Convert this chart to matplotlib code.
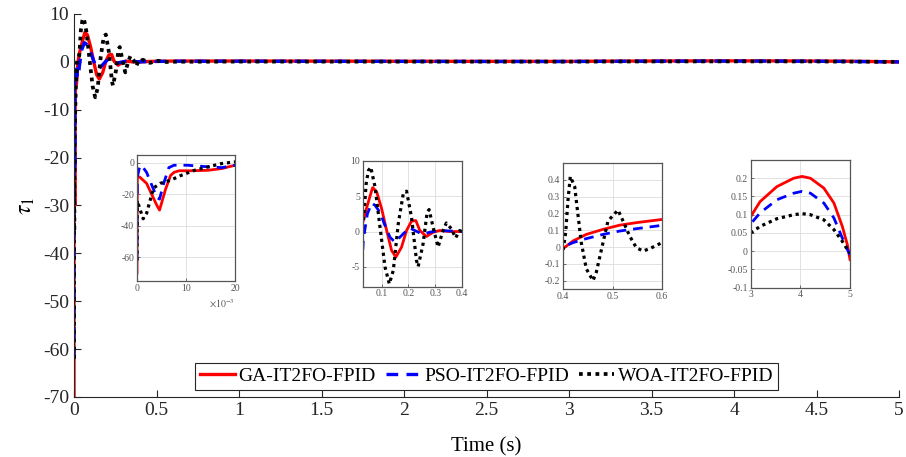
# encoding utf-8

import matplotlib
matplotlib.use('Agg')
from matplotlib import pyplot as plt
from matplotlib.ticker import FuncFormatter

plt.rcParams['font.family'] = ['Liberation Serif', 'DejaVu Serif']
plt.rcParams['mathtext.fontset'] = 'stix'
plt.rcParams['axes.unicode_minus'] = False

# time samples (s) and torque values
t_ga = [0, 0.00007, 0.00056, 0.00196, 0.0030, 0.00406, 0.0046, 0.0058, 0.00685, 0.00755,
        0.0086, 0.011, 0.0145, 0.0173, 0.020,
        0.0294, 0.0442, 0.0628, 0.0665, 0.0814, 0.1, 0.1186, 0.1372, 0.1533, 0.1743,
        0.1929, 0.2115, 0.2276, 0.2425, 0.2673, 0.2921, 0.3169, 0.354,
        0.4, 0.4202, 0.4471, 0.4808, 0.5145, 0.5481, 0.6,
        1.0, 1.5, 2.0, 2.5,
        3.0, 3.189, 3.527, 3.865, 4.034, 4.203, 4.473, 4.676, 4.845, 4.946, 5.0]
y_ga = [-70, -9, -9, -13, -20, -27, -30, -17, -8, -6,
        -5, -5, -4.7, -3.6, -1.5,
        1.3, 3.4, 5.8, 6.2, 5.6, 3.2, 0.14, -2.7, -3.6, -2.2,
        0.14, 1.46, 1.55, 0.14, -0.7, -0.1, 0.14, 0.0,
        -0.01, 0.036, 0.075, 0.105, 0.13, 0.145, 0.164,
        0.17, 0.15, 0.12, 0.10,
        0.095, 0.136, 0.177, 0.2, 0.205, 0.2, 0.173, 0.132, 0.068, 0.018, -0.023]

t_pso = [0, 0.00007, 0.0005, 0.00091, 0.00196, 0.0030, 0.00406, 0.0046, 0.00545, 0.0065,
         0.00755, 0.0103, 0.0145, 0.0173, 0.020,
         0.0294, 0.0318, 0.0467, 0.0628, 0.0752, 0.0938, 0.1124, 0.131, 0.1496, 0.1682,
         0.1867, 0.2053, 0.2239, 0.2425, 0.2611, 0.2797, 0.3169,
         0.4, 0.4202, 0.4471, 0.4808, 0.5145, 0.5481, 0.6,
         1.0, 1.5, 2.0, 2.5,
         3.0, 3.189, 3.527, 3.865, 4.034, 4.203, 4.473, 4.676, 4.845, 4.946, 5.0]
y_pso = [-62, -9, -3, -1.5, -6, -14, -22, -23, -13, -3,
         -1.5, -1.5, -2.5, -3, -1.5,
         -2.6, -1, 2.5, 4.0, 3.7, 2.7, 0.85, -0.8, -1.5, -0.8,
         -0.1, 0.5, 0.14, -0.2, -0.3, -0.1, 0.14,
         0.0, 0.026, 0.05, 0.075, 0.095, 0.109, 0.129,
         0.14, 0.12, 0.10, 0.08,
         0.075, 0.105, 0.141, 0.159, 0.164, 0.159, 0.132, 0.091, 0.036, 0.005, -0.01]

t_woa = [0, 0.00007, 0.00056, 0.00126, 0.00196, 0.00266, 0.00336, 0.00476, 0.00685, 0.00895,
         0.01175, 0.01455, 0.0173, 0.020,
         0.0318, 0.0418, 0.0504, 0.0591, 0.0752, 0.0938, 0.1124, 0.1285, 0.1434, 0.162,
         0.1805, 0.1929, 0.2115, 0.2301, 0.2363, 0.2549, 0.2698, 0.2772, 0.2921, 0.3107,
         0.3292, 0.3416, 0.3602, 0.3763, 0.3912,
         0.4, 0.4054, 0.4101, 0.4148, 0.4236, 0.4303, 0.437, 0.4471, 0.4606, 0.4673,
         0.4808, 0.4909, 0.5111, 0.5212, 0.5347, 0.5481, 0.5616, 0.5751, 0.6,
         1.0, 2.0,
         3.0, 3.189, 3.527, 3.865, 4.034, 4.203, 4.473, 4.676, 4.845, 4.946, 5.0]
y_woa = [-62, -24, -29, -35.5, -32, -24, -16, -13, -11, -8,
         -4.7, -2.5, -0.4, 0.6,
         1.3, 6.7, 8.6, 9.1, 6.3, 0.6, -5, -7.4, -5.5, 1.1,
         5.3, 5.7, 2, -4.1, -4.95, -1.7, 2.7, 3.1, 0.6, -2.2,
         0.14, 1.2, 0.4, -0.9, 0.14,
         -0.024, 0.085, 0.28, 0.42, 0.36, 0.19, 0.026, -0.13, -0.2, -0.15,
         0.026, 0.155, 0.22, 0.155, 0.065, -0.004, -0.024, -0.01, 0.026,
         0.06, 0.05,
         0.05, 0.068, 0.089, 0.1, 0.103, 0.1, 0.086, 0.059, 0.027, 0.005, -0.005]

labels = ['GA-IT2FO-FPID', 'PSO-IT2FO-FPID', 'WOA-IT2FO-FPID']

# zoom windows: (axes rect, xlim, ylim, xticks, yticks)
insets = [
    ([0.1512, 0.3851, 0.1082, 0.2757], (0, 0.02), (-75, 5), [0, 0.01, 0.02], [-60, -40, -20, 0]),
    ([0.4003, 0.3726, 0.1096, 0.2757], (0.029, 0.4), (-7.8, 10), [0.1, 0.2, 0.3, 0.4], [-5, 0, 5, 10]),
    ([0.6214, 0.3676, 0.1093, 0.2757], (0.4, 0.6), (-0.25, 0.5), [0.4, 0.5, 0.6],
     [-0.2, -0.1, 0, 0.1, 0.2, 0.3, 0.4]),
    ([0.8286, 0.3705, 0.1096, 0.2794], (3, 5), (-0.1, 0.25), [3, 4, 5],
     [-0.1, -0.05, 0, 0.05, 0.1, 0.15, 0.2]),
]


def draw_lines(ax, lw):
    ax.plot(t_ga, y_ga, color='#ff0000', lw=lw, label=labels[0])
    ax.plot(t_pso, y_pso, color='#0000ff', lw=lw, ls=(0, (3.5, 2.5)), label=labels[1])
    ax.plot(t_woa, y_woa, color='black', lw=lw + 0.3, ls=(0, (1, 1.2)), label=labels[2])


fig = plt.figure(figsize=(9.06, 4.57), dpi=100)
ax = fig.add_axes([0.0817, 0.1313, 0.9106, 0.8381])
draw_lines(ax, 2.4)
ax.set_xlim(0, 5)
ax.set_ylim(-70, 10)
ax.set_xticks([0, 0.5, 1, 1.5, 2, 2.5, 3, 3.5, 4, 4.5, 5])
ax.set_xticklabels(['0', '0.5', '1', '1.5', '2', '2.5', '3', '3.5', '4', '4.5', '5'])
ax.set_yticks(range(-70, 11, 10))
ax.spines['top'].set_visible(False)
ax.spines['right'].set_visible(False)
for s in ['left', 'bottom']:
    ax.spines[s].set_color('#262626')
    ax.spines[s].set_linewidth(0.8)
ax.tick_params(direction='in', length=5, width=0.8, color='#262626',
               labelsize=14, labelcolor='#262626')
ax.set_xlabel('Time (s)', fontsize=15, labelpad=13)
ax.set_ylabel(r'$\tau_1$', fontsize=17, labelpad=4)

leg = ax.legend(loc='lower center', bbox_to_anchor=(0.5, 0.018), ncol=3, fontsize=14,
                frameon=True, fancybox=False, edgecolor='#262626', framealpha=1,
                handlelength=1.8, handletextpad=0.2, columnspacing=0.5,
                borderpad=0.25, borderaxespad=0)
leg.get_frame().set_linewidth(0.8)

for rect, xl, yl, xt, yt in insets:
    a = fig.add_axes(rect)
    draw_lines(a, 2.0)
    a.set_xlim(*xl)
    a.set_ylim(*yl)
    a.set_xticks(xt)
    a.set_yticks(yt)
    a.grid(True, color='#dddddd', lw=0.6)
    a.set_axisbelow(True)
    for s in a.spines.values():
        s.set_color('#555555')
        s.set_linewidth(0.9)
    a.tick_params(direction='in', length=2, width=0.6, color='#555555',
                  labelsize=7, labelcolor='#555555', pad=2)
    if xl == (0, 0.02):
        a.xaxis.set_major_formatter(FuncFormatter(lambda v, p: '%g' % round(v * 1000, 6)))
        a.text(1.0, -0.13, r'$\times10^{-3}$', transform=a.transAxes, ha='right', va='top',
               fontsize=7, color='#555555')
    else:
        a.xaxis.set_major_formatter(FuncFormatter(lambda v, p: '%g' % round(v, 6)))
    a.yaxis.set_major_formatter(FuncFormatter(lambda v, p: '%g' % round(v, 6)))

fig.savefig('out.png', dpi=100)
